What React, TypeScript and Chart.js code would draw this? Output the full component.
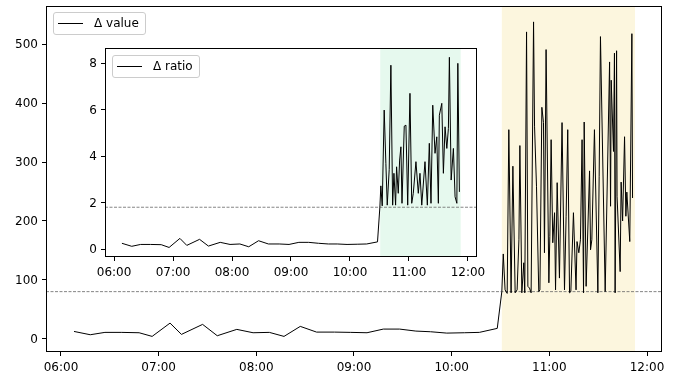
import React, { useEffect, useRef } from "react";
import { Chart, registerables } from "chart.js";

Chart.register(...registerables);

// Times are minutes since midnight.
const lowTimes = [368, 378, 387, 397, 408, 416, 427, 434, 447, 456, 468, 478, 488, 497, 507, 517, 528, 538, 548, 558, 568, 578, 587, 597, 608, 617, 628];
const lowValues = [12.4, 6.8, 10.8, 10.8, 10.2, 4.0, 26.6, 7.4, 24.4, 5.1, 15.9, 10.2, 10.8, 4.0, 21, 11.3, 11.3, 10.8, 10.2, 16.4, 16.4, 13, 11.9, 9.6, 10.2, 10.8, 17.6];
const lowRatios = [0.25, 0.12, 0.2, 0.2, 0.19, 0.07, 0.46, 0.16, 0.42, 0.13, 0.29, 0.2, 0.22, 0.1, 0.36, 0.22, 0.22, 0.2, 0.29, 0.29, 0.25, 0.22, 0.22, 0.2, 0.21, 0.22, 0.31];

const highValueTimes = [630.8, 631.7, 632.8, 634.1, 635.1, 636.5, 637.6, 639.0, 640.2, 641.3, 641.9, 643.1, 644.3, 644.9, 646.0, 646.8, 647.8, 648.8, 650.3, 650.9, 652.1, 653.5, 654.2, 655.4, 656.4, 657.0, 658.0, 659.7, 660.3, 661.1, 662.1, 663.2, 663.8, 664.8, 666.2, 667.8, 669.3, 670.3, 671.3, 672.4, 673.2, 674.8, 676.4, 677.0, 678.1, 679.1, 680.1, 681.0, 681.4, 682.6, 684.7, 685.3, 686.1, 687.7, 689.8, 690.6, 691.4, 694.3, 697.0, 697.6, 698.0, 699.4, 700.0, 700.4, 701.3, 701.6, 703.5, 704.1, 705.0, 706.2, 707.0, 707.6, 709.4, 710.7, 711.1];
const highValues = [80, 144, 83, 77, 355, 78, 293, 78, 83, 168, 328, 78, 129, 78, 521, 89, 86, 78, 538, 361, 259, 80, 83, 393, 367, 146, 491, 95, 174, 338, 163, 214, 83, 265, 103, 367, 83, 208, 355, 78, 80, 214, 83, 165, 146, 168, 338, 78, 368, 89, 285, 151, 168, 355, 78, 276, 513, 80, 470, 225, 439, 318, 485, 78, 489, 242, 114, 266, 200, 343, 208, 249, 165, 518, 239];

const highRatioTimes = [630.4, 631.4, 632.8, 634.8, 636.5, 637.9, 639.9, 641.6, 643.4, 644.7, 646.4, 647.4, 649.1, 650.5, 651.8, 652.9, 655.2, 656.9, 658.7, 661.0, 662.8, 664.4, 667.1, 669.5, 671.2, 673.0, 676.3, 678.7, 680.7, 682.4, 684.2, 686.5, 688.3, 689.9, 690.9, 693.4, 695.0, 696.7, 698.5, 700.1, 701.1, 702.9, 705.2, 706.9, 708.7, 709.7, 711.3];
const highRatios = [1.8, 2.72, 1.86, 5.98, 3.69, 1.89, 3.43, 7.91, 1.89, 3.26, 1.89, 3.54, 2.4, 3.83, 4.4, 1.97, 5.29, 5.33, 1.89, 6.7, 1.97, 2.4, 3.76, 2.4, 3.26, 1.89, 3.76, 1.89, 4.55, 1.97, 6.19, 4.12, 4.83, 1.97, 5.76, 6.27, 3.26, 5.26, 4.33, 5.19, 8.25, 2.97, 4.33, 2.25, 1.97, 7.99, 2.46];

const xTicks = [360, 420, 480, 540, 600, 660, 720];
const valueTicks = [0, 100, 200, 300, 400, 500];
const ratioTicks = [0, 2, 4, 6, 8];

const valueThreshold = 80;
const ratioThreshold = 1.8;
const shadeStart = 630.8;
const shadeEnd = 712.6;

const X_MIN = 350.8;
const X_MAX = 729.2;

const FONT = '"DejaVu Sans", sans-serif';

function fmtTime(v: number) {
  const h = Math.floor(v / 60);
  const m = Math.round(v - h * 60);
  return String(h).padStart(2, "0") + ":" + String(m).padStart(2, "0");
}

function toPoints(ts: number[], vs: number[]) {
  return ts.map((t, i) => ({ x: t, y: vs[i] }));
}

type Opts = {
  label: string;
  points: { x: number; y: number }[];
  yMin: number;
  yMax: number;
  yTicks: number[];
  threshold: number;
  shadeColor: string;
  yWidth: number;
  xHeight: number;
  padding: { left: number; right: number; top: number; bottom: number };
  legendDY: number;
};

function makeChart(canvas: HTMLCanvasElement, o: Opts) {
  const overlay = {
    id: "overlay" + o.label,
    beforeDatasetsDraw(chart: any) {
      const { ctx, chartArea: a, scales } = chart;
      ctx.save();
      const x0 = scales.x.getPixelForValue(shadeStart);
      const x1 = scales.x.getPixelForValue(shadeEnd);
      ctx.fillStyle = o.shadeColor;
      ctx.fillRect(x0, a.top, x1 - x0, a.bottom - a.top);
      const yy = scales.y.getPixelForValue(o.threshold);
      ctx.strokeStyle = "#666";
      ctx.lineWidth = 0.8;
      ctx.setLineDash([3, 1.5]);
      ctx.beginPath();
      ctx.moveTo(a.left, yy);
      ctx.lineTo(a.right, yy);
      ctx.stroke();
      ctx.restore();
    },
    afterDraw(chart: any) {
      const { ctx, chartArea: a } = chart;
      ctx.save();
      ctx.strokeStyle = "#000";
      ctx.lineWidth = 1;
      ctx.setLineDash([]);
      ctx.strokeRect(Math.round(a.left) + 0.5, Math.round(a.top) + 0.5, Math.round(a.right - a.left) - 1, Math.round(a.bottom - a.top) - 1);
      // legend
      ctx.font = "12px " + FONT;
      const tw = ctx.measureText(o.label).width;
      const lx = Math.round(a.left + 7);
      const ly = Math.round(a.top + o.legendDY);
      const w = Math.round(41 + tw + 6);
      const h = 22;
      ctx.fillStyle = "rgba(255,255,255,0.8)";
      ctx.strokeStyle = "#cccccc";
      ctx.beginPath();
      (ctx as any).roundRect(lx + 0.5, ly + 0.5, w, h, 2.5);
      ctx.fill();
      ctx.stroke();
      ctx.strokeStyle = "#000";
      ctx.lineWidth = 1;
      ctx.beginPath();
      ctx.moveTo(lx + 5, ly + 11.5);
      ctx.lineTo(lx + 30, ly + 11.5);
      ctx.stroke();
      ctx.fillStyle = "#000";
      ctx.textBaseline = "middle";
      ctx.textAlign = "left";
      ctx.fillText(o.label, lx + 41, ly + 12);
      ctx.restore();
    },
  };

  return new Chart(canvas, {
    type: "line",
    data: {
      datasets: [
        {
          label: o.label,
          data: o.points,
          borderColor: "#000",
          borderWidth: 1,
          pointRadius: 0,
          fill: false,
          tension: 0,
        },
      ],
    },
    options: {
      animation: false,
      responsive: false,
      maintainAspectRatio: false,
      layout: { padding: o.padding },
      plugins: { legend: { display: false }, tooltip: { enabled: false } },
      scales: {
        x: {
          type: "linear",
          min: X_MIN,
          max: X_MAX,
          afterBuildTicks: (s: any) => {
            s.ticks = xTicks.map((v) => ({ value: v }));
          },
          afterFit: (s: any) => {
            s.height = o.xHeight;
            s.paddingLeft = 0;
            s.paddingRight = 0;
            s.paddingTop = 0;
            s.paddingBottom = 0;
          },
          ticks: {
            callback: (v: any) => fmtTime(Number(v)),
            font: { family: FONT, size: 12 },
            color: "#000",
            maxRotation: 0,
            autoSkip: false,
            padding: 5,
          },
          grid: { display: true, drawOnChartArea: false, drawTicks: true, tickLength: 4, color: "#000", lineWidth: 1 },
          border: { display: false },
        },
        y: {
          type: "linear",
          min: o.yMin,
          max: o.yMax,
          afterBuildTicks: (s: any) => {
            s.ticks = o.yTicks.map((v) => ({ value: v }));
          },
          afterFit: (s: any) => {
            s.width = o.yWidth;
            s.paddingLeft = 0;
            s.paddingRight = 0;
            s.paddingTop = 0;
            s.paddingBottom = 0;
          },
          ticks: {
            callback: (v: any) => String(v),
            font: { family: FONT, size: 12 },
            color: "#000",
            autoSkip: false,
            padding: 4,
            labelOffset: 1,
          },
          grid: { display: true, drawOnChartArea: false, drawTicks: true, tickLength: 4, color: "#000", lineWidth: 1 },
          border: { display: false },
        },
      },
    },
    plugins: [overlay],
  } as any);
}

export default function App() {
  const mainRef = useRef<HTMLCanvasElement>(null);
  const insetRef = useRef<HTMLCanvasElement>(null);

  useEffect(() => {
    const main = makeChart(mainRef.current!, {
      label: "Δ value",
      points: toPoints([...lowTimes, ...highValueTimes], [...lowValues, ...highValues]),
      yMin: -22.5,
      yMax: 565,
      yTicks: valueTicks,
      threshold: valueThreshold,
      shadeColor: "#fcf6de",
      yWidth: 46,
      xHeight: 27,
      padding: { left: 0, right: 17, top: 6, bottom: 0 },
      legendDY: 6,
    });
    const inset = makeChart(insetRef.current!, {
      label: "Δ ratio",
      points: toPoints([...lowTimes, ...highRatioTimes], [...lowRatios, ...highRatios]),
      yMin: -0.34,
      yMax: 8.65,
      yTicks: ratioTicks,
      threshold: ratioThreshold,
      shadeColor: "#e6f9ee",
      yWidth: 45,
      xHeight: 23,
      padding: { left: 0, right: 13, top: 4, bottom: 0 },
      legendDY: 6.5,
    });
    return () => {
      main.destroy();
      inset.destroy();
    };
  }, []);

  return (
    <div style={{ position: "absolute", left: 0, top: 0, width: 679, height: 379, background: "#fff" }}>
      <canvas ref={mainRef} width={679} height={379} style={{ position: "absolute", left: 0, top: 0, width: 679, height: 379 }} />
      <canvas ref={insetRef} width={430} height={236} style={{ position: "absolute", left: 60, top: 44, width: 430, height: 236 }} />
    </div>
  );
}
